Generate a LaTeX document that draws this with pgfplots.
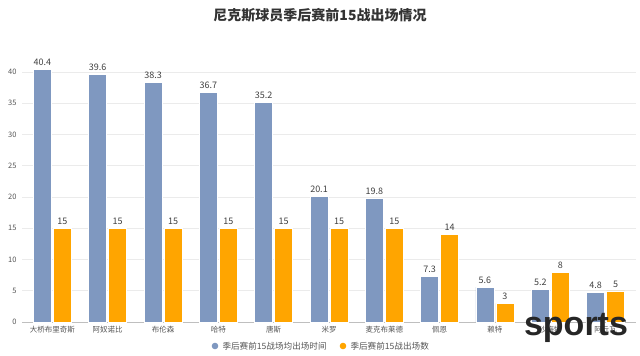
\documentclass[border=0pt]{standalone}
\usepackage{pgfplots}
\pgfplotsset{compat=1.18}
\usepackage{fontspec}
\setmainfont{Noto Sans CJK SC}
\newfontfamily\wm{Liberation Sans}
\definecolor{cblue}{HTML}{7F98C0}
\definecolor{corange}{HTML}{FFA500}
\definecolor{tgray}{HTML}{555555}
\definecolor{ggray}{HTML}{EBEBEB}
\begin{document}
\begin{tikzpicture}
\useasboundingbox (0,0) rectangle (640bp,356bp);
\begin{axis}[
  at={(22bp,34bp)}, anchor=south west,
  scale only axis, width=614bp, height=262.5bp,
  xmin=-0.55, xmax=10.55, ymin=0, ymax=42,
  ytick={0,5,...,40},
  xtick={0,...,10},
  xticklabels={大桥布里奇斯,阿奴诺比,布伦森,哈特,唐斯,米罗,麦克布莱德,佩恩,赖特,沙梅特,阿丘瓦},
  axis line style={draw=none},
  axis x line*=bottom, axis y line*=left,
  ymajorgrids, grid style={ggray, line width=0.6bp},
  major tick length=0pt,
  tick label style={font=\fontsize{7.5bp}{9bp}\selectfont, text=tgray},
  /pgf/number format/assume math mode=true,
  yticklabel style={xshift=-2bp},
  xticklabel style={yshift=-1bp},
  ybar, bar width=18bp,
  nodes near coords,
  every node near coord/.append style={font=\fontsize{9bp}{10bp}\selectfont, text=black!75, /pgf/number format/assume math mode=true},
  clip=false,
]
\draw[gray!50, line width=0.6bp] (axis cs:-0.55,0) -- (axis cs:10.55,0);
\addplot[fill=cblue, draw=white, line width=0.5bp, bar shift=-10bp, /pgf/number format/fixed, /pgf/number format/precision=1] coordinates {
(0,40.4) (1,39.6) (2,38.3) (3,36.7) (4,35.2) (5,20.1) (6,19.8) (7,7.3) (8,5.6) (9,5.2) (10,4.8)};
\addplot[fill=corange, draw=white, line width=0.5bp, bar shift=10bp] coordinates {
(0,15) (1,15) (2,15) (3,15) (4,15) (5,15) (6,15) (7,14) (8,3) (9,8) (10,5)};
\end{axis}
\node[font=\bfseries\fontsize{14bp}{16bp}\selectfont, text=black!80] at (320bp,341bp) {尼克斯球员季后赛前15战出场情况};
\fill[cblue] (215bp,10bp) circle (3.3bp);
\node[anchor=west, font=\fontsize{8.6bp}{10bp}\selectfont, text=tgray] at (219bp,10bp) {季后赛前15战场均出场时间};
\fill[corange] (343bp,10bp) circle (3.3bp);
\node[anchor=west, font=\fontsize{8.6bp}{10bp}\selectfont, text=tgray] at (347bp,10bp) {季后赛前15战出场数};
\node[font=\wm\bfseries\fontsize{34bp}{36bp}\selectfont, text=black!85] at (576bp,28bp) {sports};
\end{tikzpicture}
\end{document}
